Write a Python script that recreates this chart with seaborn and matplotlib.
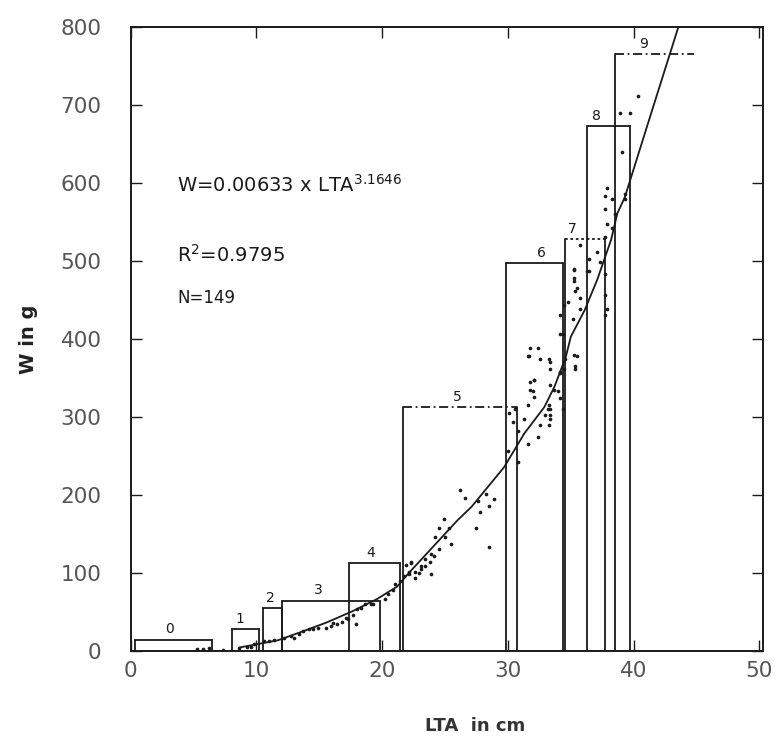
import matplotlib
matplotlib.use("Agg")
import matplotlib.pyplot as plt
import seaborn as sns
import pandas as pd

# ---------------- data ----------------
# age classes drawn as open boxes: left edge, right edge (LTA, cm), top (W, g)
class_labels = ["0", "1", "2", "3", "4", "5", "6", "7", "8", "9"]
class_left = [0.33, 8.02, 10.49, 12.07, 17.39, 21.63, 29.81, 34.55, 36.32, 38.49]
class_right = [6.45, 10.19, 12.07, 19.86, 21.43, 30.70, 34.35, 37.70, 39.67, 44.8]
class_top = [15, 29, 55, 65, 113, 313, 497, 528, 673, 765]
class_label_x = [3.09, 8.71, 11.08, 14.93, 19.07, 25.97, 32.67, 35.14, 37.01, 40.76]

# individual fish (LTA in cm, W in g)
lta = [5.26, 5.76, 6.25, 7.33,
       8.62, 9.21, 9.60, 9.80, 10.59, 10.98, 11.38, 12.16, 12.76, 12.95, 13.35, 13.74,
       14.14, 14.53, 14.93, 15.52, 15.91, 16.11, 16.40, 16.80, 17.09, 17.29, 17.69, 17.98,
       18.28, 18.67, 19.07, 19.26, 17.88, 20.25, 20.45, 20.84, 21.04, 21.43, 21.73, 22.12,
       21.93, 22.32, 22.91, 23.11, 23.41, 23.80, 24.10, 22.62,
       26.17, 26.56, 27.65, 28.24, 28.93, 28.53, 27.74, 27.45, 28.53, 24.88, 25.28, 24.49,
       24.19, 24.98, 25.48, 24.49, 23.90, 23.41, 23.11, 22.62, 22.32, 23.90, 22.12,
       30.11, 30.41, 30.80, 30.01, 30.80, 31.59, 32.38, 32.58, 33.27, 32.97, 33.36, 31.29,
       31.59, 33.27, 31.79, 32.08, 33.36, 31.79,
       31.79, 32.58, 33.36, 31.59, 32.08, 31.98, 33.36, 34.15, 34.55, 35.24, 35.34, 34.15,
       34.15, 34.45, 35.24, 35.24, 35.53, 35.73, 36.42, 37.70, 37.90, 33.96, 34.35, 33.36,
       33.36,
       40.36, 38.89, 39.67, 39.08, 37.90, 37.70, 38.29, 37.70, 37.90, 39.28, 39.28, 38.49,
       38.29, 37.70, 37.11, 37.31, 37.70, 36.32, 36.42, 35.73, 35.24, 35.24, 35.34, 34.74,
       35.73, 35.14, 37.70, 34.35, 35.53, 35.34, 34.45, 32.38, 31.69, 33.27, 34.15, 32.08,
       33.66, 34.15, 33.17, 30.60]
weight = [3, 3, 4, 2,
          4, 5, 6, 9, 13, 13, 15, 17, 19, 17, 22, 26,
          28, 28, 30, 30, 32, 36, 35, 38, 42, 41, 47, 54,
          55, 61, 60, 61, 35, 67, 73, 79, 86, 90, 96, 102,
          111, 115, 100, 105, 109, 115, 122, 94,
          207, 196, 192, 202, 195, 186, 179, 158, 134, 169, 158, 158,
          147, 147, 137, 131, 124, 118, 109, 102, 113, 99, 99,
          305, 294, 282, 256, 243, 266, 275, 290, 290, 303, 303, 298,
          316, 316, 335, 326, 341, 345,
          388, 375, 371, 378, 348, 333, 362, 358, 375, 380, 362, 407,
          431, 444, 474, 489, 465, 452, 487, 457, 439, 333, 311, 311,
          298,
          711, 689, 689, 640, 593, 583, 579, 567, 547, 579, 586, 560,
          542, 531, 512, 499, 483, 487, 503, 521, 490, 478, 461, 448,
          439, 426, 431, 406, 378, 365, 362, 388, 378, 374, 356, 348,
          335, 324, 310, 311]

# fitted curve as drawn in the picture
curve_lta = [8.7, 11.7, 13.6, 15.6, 17.6, 19.6, 21.2, 22.1, 26.0, 27.1, 29.7,
             31.3, 32.9, 33.7, 34.6, 35.0, 36.1, 37.1, 38.2, 38.7, 39.3, 41.5,
             43.4, 43.55]
curve_w = [5, 14, 25, 37, 51, 67, 83, 100, 168, 185, 236,
           279, 313, 339, 377, 403, 437, 476, 527, 561, 582, 695,
           792, 800]

x_ticks = [0, 10, 20, 30, 40, 50]
y_ticks = [0, 100, 200, 300, 400, 500, 600, 700, 800]

# ---------------- drawing ----------------
sns.set_theme(style="white")
plt.rcParams['font.family'] = ['DejaVu Sans']

fig = plt.figure(figsize=(7.78, 7.46), dpi=100)
ax = fig.add_axes([0.168, 0.127, 0.813, 0.837])

ink = "#1a1a1a"
top_styles = ["-", "-", "-", "-", "-", (0, (5, 2, 1, 2)), "-", (0, (1.5, 1.5)), "-", (0, (5, 2, 1, 2))]
draw_right = [True] * 9 + [False]

for i in range(len(class_labels)):
    l, r, t = class_left[i], class_right[i], class_top[i]
    ax.plot([l, l], [0, t], color=ink, lw=1.3)
    ax.plot([l, r], [t, t], color=ink, lw=1.3, linestyle=top_styles[i])
    if draw_right[i]:
        ax.plot([r, r], [t, 0], color=ink, lw=1.3)
    ax.text(class_label_x[i], t + 4, class_labels[i], ha="center", va="bottom",
            fontsize=10, color=ink)

df = pd.DataFrame({"LTA": lta, "W": weight})
sns.scatterplot(data=df, x="LTA", y="W", ax=ax, s=7, color=ink,
                linewidth=0, legend=False)

curve = pd.DataFrame({"LTA": curve_lta, "W": curve_w})
sns.lineplot(data=curve, x="LTA", y="W", ax=ax, color=ink, lw=1.3,
             sort=False, estimator=None)

ax.set_xlim(0, 50.3)
ax.set_ylim(0, 800)
ax.set_xticks(x_ticks)
ax.set_yticks(y_ticks)
ax.tick_params(axis="both", direction="in", length=8, width=1, color=ink,
               labelsize=15.5, labelcolor="#555555",
               top=True, right=True, bottom=True, left=True)
ax.tick_params(axis="y", pad=21)
ax.tick_params(axis="x", pad=7)
for sp in ax.spines.values():
    sp.set_color(ink)
    sp.set_linewidth(1.4)

ax.set_xlabel("LTA  in cm", fontsize=13, fontweight="bold", color="#333333")
ax.xaxis.set_label_coords(0.544, -0.106)
ax.set_ylabel("W in g", fontsize=14, fontweight="bold", color="#222222",
              labelpad=16)

ax.text(3.7, 597, r"W=0.00633 x LTA$^{3.1646}$", fontsize=14, color=ink,
        ha="left", va="center")
ax.text(3.7, 508, r"R$^{2}$=0.9795", fontsize=14, color=ink,
        ha="left", va="center")
ax.text(3.7, 452, "N=149", fontsize=12, color=ink, ha="left", va="center")

fig.savefig("out.png", dpi=100, facecolor="white")
